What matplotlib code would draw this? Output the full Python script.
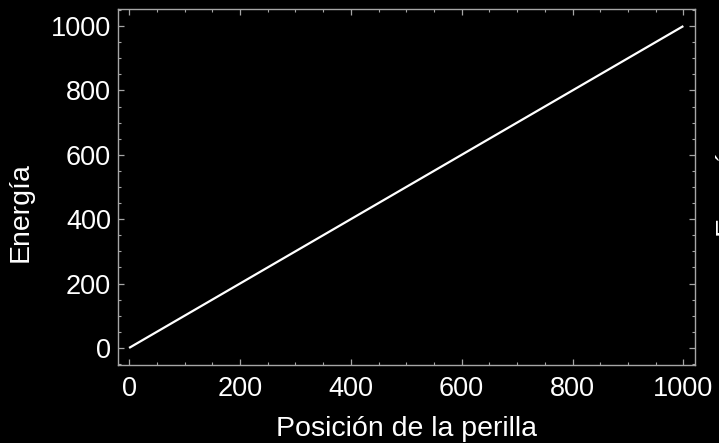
import matplotlib
matplotlib.use('Agg')
import matplotlib.pyplot as plt
from matplotlib.ticker import MultipleLocator

# datos: energía en función de la posición de la perilla
posicion = [0, 250, 500, 750, 1000]
energia = [0, 250, 500, 750, 1000]

xticks = [0, 200, 400, 600, 800, 1000]
yticks = [0, 200, 400, 600, 800, 1000]

plt.rcParams['font.family'] = ['Liberation Sans', 'DejaVu Sans']
frame_color = '#a6a6a6'

fig = plt.figure(figsize=(7.19, 4.43), dpi=100, facecolor='black')
ax = fig.add_axes([118 / 719, 78 / 443, 577 / 719, 356 / 443], facecolor='black')

ax.plot(posicion, energia, color='white', lw=1.6, solid_capstyle='butt')

ax.set_xlim(-20, 1021)
ax.set_ylim(-53, 1053)
ax.set_xticks(xticks)
ax.set_yticks(yticks)
ax.xaxis.set_minor_locator(MultipleLocator(50))
ax.yaxis.set_minor_locator(MultipleLocator(50))

for s in ax.spines.values():
    s.set_color(frame_color)
    s.set_linewidth(1.0)

ax.tick_params(which='both', direction='in', top=True, right=True,
               colors=frame_color, labelcolor='white', labelsize=19.5)
ax.tick_params(which='major', length=4, width=0.9)
ax.tick_params(which='minor', length=2.5, width=0.8)
ax.tick_params(axis='x', pad=8)
ax.tick_params(axis='y', pad=5)

ax.set_xlabel('Posición de la perilla', color='white', fontsize=20.5, labelpad=10)
ax.set_ylabel('Energía', color='white', fontsize=20.5)
ax.yaxis.set_label_coords(-0.146, 0.43)

# etiqueta del gráfico vecino, cortada en el borde derecho
fig.text(727 / 719, 1 - 185 / 443, 'Energía', color='white', fontsize=20.5,
         rotation=90, ha='center', va='center')

fig.savefig('out.png', dpi=100, facecolor='black')
